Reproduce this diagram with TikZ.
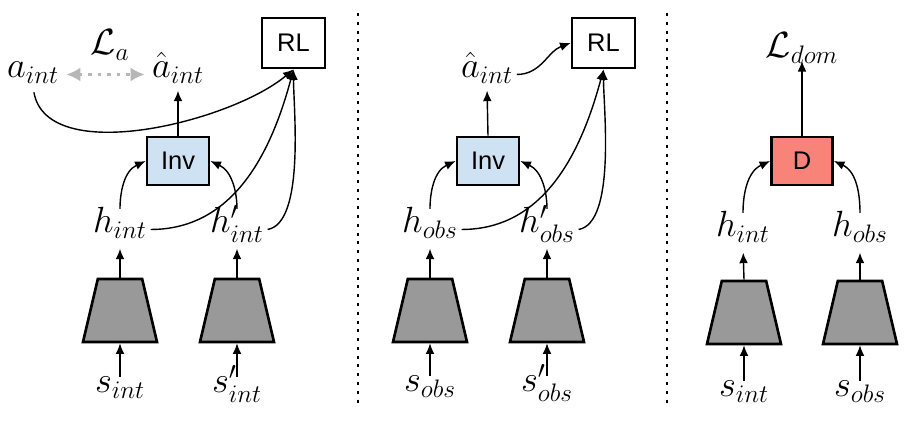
\documentclass[tikz,border=0pt]{standalone}
\usepackage{fontspec}
\setsansfont{Liberation Sans}
\usepackage{xcolor}
\usepackage{tikz}
\usetikzlibrary{shapes.geometric, arrows.meta, positioning, backgrounds}
\definecolor{invfill}{HTML}{CFE2F3}
\definecolor{discfill}{HTML}{F88379}
\definecolor{encfill}{HTML}{999999}
\definecolor{lossdraw}{HTML}{B7B7B7}
\tikzset{
  box/.style={rectangle, draw=black, line width=1.6pt, font=\sffamily\fontsize{14.5}{16}\selectfont, inner sep=0pt, minimum height=0.96cm},
  rl/.style={box, fill=white, minimum width=1.26cm, minimum height=1.0cm},
  inv/.style={box, fill=invfill, minimum width=1.24cm},
  disc/.style={box, fill=discfill, minimum width=1.22cm},
  enc/.style={trapezium, trapezium angle=71.5, trapezium stretches=true, draw=black, fill=encfill, line width=1.5pt, minimum width=1.48cm, minimum height=1.26cm, inner sep=1pt},
  var/.style={font=\fontsize{19.5}{22}\selectfont, inner sep=2pt, text height=0.7em, text depth=0.3em, anchor=base},
  loss/.style={var, inner sep=0pt, text depth=0.15em},
  arr/.style={-{Latex[length=6pt,width=5pt]}, line width=0.8pt, draw=black},
  feat/.style={arr, shorten >=3.7pt},
  curvin/.style={arr, shorten <=4.5pt},
  lossarr/.style={{Latex[length=8pt,width=8pt]}-{Latex[length=8pt,width=8pt]}, draw=lossdraw, line width=1.8pt, dash pattern=on 1.8pt off 3.6pt, shorten <=2pt, shorten >=2pt},
  sep/.style={line width=1.7pt, dash pattern=on 1.7pt off 3.3pt},
}
\begin{document}
\begin{tikzpicture}
  \useasboundingbox (0,0) rectangle (18.32,8.46);
  % inverse model, int
  \node[rl] (rl_a) at (5.87,7.60) {RL};
  \node[inv] (inv_a) at (3.56,5.24) {Inv};
  \node[var] (act_a) at (0.66,6.90) {$a_{int}$};
  \node[var] (pred_a) at (3.56,6.90) {$\hat{a}_{int}$};
  \node[loss] (loss_a) at (2.20,7.36) {$\mathcal{L}_a$};
  \node[var] (h_a) at (2.40,3.80) {$h_{int}$};
  \node[var] (hn_a) at (4.74,3.80) {$h'_{int}$};
  \node[enc] (enc_a) at (2.40,2.25) {};
  \node[enc] (encn_a) at (4.74,2.25) {};
  \node[var] (s_a) at (2.40,0.60) {$s_{int}$};
  \node[var] (sn_a) at (4.74,0.60) {$s'_{int}$};
  \draw[lossarr] (act_a) -- (pred_a);
  \draw[arr, shorten >=2pt] (inv_a.north) -- (pred_a.south);
  \draw[curvin] (h_a.north) to[out=90, in=205] (inv_a.west);
  \draw[curvin] (hn_a.north) to[out=90, in=-25] (inv_a.east);
  \draw[arr, shorten <=3pt] (act_a.south) to[out=-80, in=-140, looseness=0.8] (rl_a.south);
  \draw[arr] (h_a.east) to[out=0, in=-105] (rl_a.south);
  \draw[arr] (hn_a.east) to[out=10, in=-90, looseness=0.6] (rl_a.south);
  \draw[feat] (enc_a.north) -- (h_a.south);
  \draw[feat] (encn_a.north) -- (hn_a.south);
  \draw[arr] (s_a.north) -- (enc_a.south);
  \draw[arr] (sn_a.north) -- (encn_a.south);

  % inverse model, obs
  \node[rl] (rl_b) at (12.07,7.60) {RL};
  \node[inv] (inv_b) at (9.76,5.24) {Inv};
  \node[var] (pred_b) at (9.74,6.90) {$\hat{a}_{int}$};
  \node[var] (h_b) at (8.60,3.80) {$h_{obs}$};
  \node[var] (hn_b) at (10.94,3.80) {$h'_{obs}$};
  \node[enc] (enc_b) at (8.60,2.25) {};
  \node[enc] (encn_b) at (10.94,2.25) {};
  \node[var] (s_b) at (8.60,0.62) {$s_{obs}$};
  \node[var] (sn_b) at (10.94,0.62) {$s'_{obs}$};
  \draw[arr, shorten >=2pt] (inv_b.north) -- (pred_b.south);
  \draw[arr] (pred_b.east) to[out=0, in=200] (rl_b.west);
  \draw[curvin] (h_b.north) to[out=90, in=205] (inv_b.west);
  \draw[curvin] (hn_b.north) to[out=90, in=-25] (inv_b.east);
  \draw[arr] (h_b.east) to[out=0, in=-105] (rl_b.south);
  \draw[arr] (hn_b.east) to[out=10, in=-90, looseness=0.6] (rl_b.south);
  \draw[feat] (enc_b.north) -- (h_b.south);
  \draw[feat] (encn_b.north) -- (hn_b.south);
  \draw[arr] (s_b.north) -- (enc_b.south);
  \draw[arr] (sn_b.north) -- (encn_b.south);

  % domain discriminator
  \node[disc] (disc_c) at (16.04,5.24) {D};
  \node[loss] (loss_c) at (16.04,7.30) {$\mathcal{L}_{dom}$};
  \node[var] (h_c) at (14.86,3.72) {$h_{int}$};
  \node[var] (hn_c) at (17.20,3.72) {$h_{obs}$};
  \node[enc] (enc_c) at (14.88,2.21) {};
  \node[enc] (encn_c) at (17.20,2.21) {};
  \node[var] (s_c) at (14.88,0.52) {$s_{int}$};
  \node[var] (sn_c) at (17.20,0.52) {$s_{obs}$};
  \draw[arr] (disc_c.north) -- (loss_c.south);
  \draw[curvin] (h_c.north) to[out=90, in=205] (disc_c.west);
  \draw[curvin] (hn_c.north) to[out=90, in=-25] (disc_c.east);
  \draw[feat] (enc_c.north) -- (h_c.south);
  \draw[feat] (encn_c.north) -- (hn_c.south);
  \draw[arr] (s_c.north) -- (enc_c.south);
  \draw[arr] (sn_c.north) -- (encn_c.south);

  \begin{scope}[on background layer]
    \draw[sep] (7.16,8.20) -- (7.16,0.30);
    \draw[sep] (13.34,8.20) -- (13.34,0.30);
  \end{scope}
\end{tikzpicture}
\end{document}
